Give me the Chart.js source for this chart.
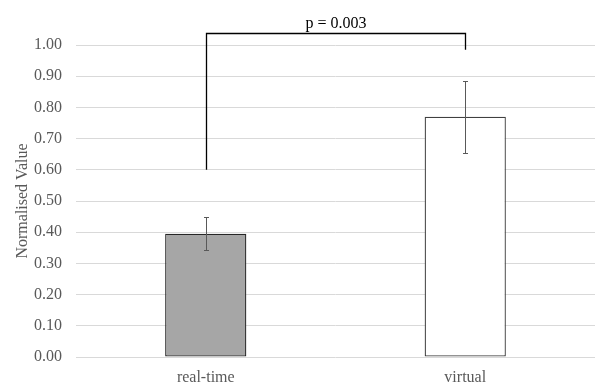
<!DOCTYPE html>
<html>
<head>
<meta charset="utf-8">
<script src="https://cdn.jsdelivr.net/npm/chart.js@4"></script>
<style>
  html, body { margin: 0; padding: 0; background: #ffffff; }
  #wrap { width: 595px; height: 383px; position: relative; }
</style>
</head>
<body>
<div id="wrap"><canvas id="barChart"></canvas></div>
<script>
const categories = ['real-time', 'virtual'];
const meanValues = [0.395, 0.770];
const errorValues = [0.053, 0.115];
const yTicks = [0, 0.1, 0.2, 0.3, 0.4, 0.5, 0.6, 0.7, 0.8, 0.9, 1.0];

// significance bracket: top level and where each leg ends
const pLabel = 'p = 0.003';
const bracketTop = 1.04;
const bracketLegEnds = [0.60, 0.985];

const serif = "'Liberation Serif', 'Times New Roman', serif";

const errorBars = {
    id: 'errorBars',
    afterDatasetsDraw(chart) {
        const ctx = chart.ctx;
        const x = chart.scales.x, y = chart.scales.y;
        ctx.save();
        ctx.strokeStyle = '#595959';
        ctx.lineWidth = 1;
        meanValues.forEach((m, i) => {
            const cx = Math.round(x.getPixelForValue(i)) + 0.5;
            const yHi = Math.round(y.getPixelForValue(m + errorValues[i])) + 0.5;
            const yLo = Math.round(y.getPixelForValue(m - errorValues[i])) + 0.5;
            ctx.beginPath();
            ctx.moveTo(cx, yHi); ctx.lineTo(cx, yLo);
            ctx.moveTo(cx - 2.5, yHi); ctx.lineTo(cx + 2.5, yHi);
            ctx.moveTo(cx - 2.5, yLo); ctx.lineTo(cx + 2.5, yLo);
            ctx.stroke();
        });
        ctx.restore();
    }
};

const sigBracket = {
    id: 'sigBracket',
    afterDraw(chart) {
        const ctx = chart.ctx;
        const x = chart.scales.x, y = chart.scales.y;
        const x0 = Math.round(x.getPixelForValue(0)) + 0.5;
        const x1 = Math.round(x.getPixelForValue(1)) + 0.5;
        const yt = Math.round(y.getPixelForValue(bracketTop)) + 0.5;
        ctx.save();
        ctx.strokeStyle = '#000000';
        ctx.lineWidth = 1.3;
        ctx.beginPath();
        ctx.moveTo(x0, y.getPixelForValue(bracketLegEnds[0]));
        ctx.lineTo(x0, yt);
        ctx.lineTo(x1, yt);
        ctx.lineTo(x1, y.getPixelForValue(bracketLegEnds[1]));
        ctx.stroke();
        ctx.fillStyle = '#000000';
        ctx.font = '16px ' + serif;
        ctx.textAlign = 'center';
        ctx.textBaseline = 'alphabetic';
        ctx.fillText(pLabel, (x0 + x1) / 2, yt - 6);
        ctx.restore();
    }
};

new Chart(document.getElementById('barChart'), {
    type: 'bar',
    data: {
        labels: categories,
        datasets: [{
            data: meanValues,
            backgroundColor: ['#a6a6a6', '#ffffff'],
            borderColor: ['#262626', '#404040'],
            borderWidth: 1.3,
            borderSkipped: false,
            categoryPercentage: 1,
            barPercentage: 0.313
        }]
    },
    options: {
        responsive: true,
        maintainAspectRatio: false,
        animation: false,
        layout: { padding: { top: 45, right: 0, left: 0, bottom: 0 } },
        plugins: {
            legend: { display: false },
            tooltip: { enabled: false }
        },
        scales: {
            x: {
                grid: { display: false, drawTicks: false },
                border: { display: false },
                ticks: {
                    color: '#595959',
                    font: { family: serif, size: 16 },
                    padding: 11
                },
                afterFit(scale) { scale.height = 26; }
            },
            y: {
                min: 0,
                max: 1.0,
                afterBuildTicks(scale) {
                    scale.ticks = yTicks.map(v => ({ value: v }));
                },
                grid: { color: '#d9d9d9', lineWidth: 1, drawTicks: false },
                border: { display: false },
                ticks: {
                    color: '#595959',
                    font: { family: serif, size: 16 },
                    padding: 14,
                    callback: v => Number(v).toFixed(2)
                },
                title: {
                    display: true,
                    text: 'Normalised Value',
                    color: '#595959',
                    font: { family: serif, size: 16 },
                    padding: { top: 13, bottom: 0 }
                },
                afterFit(scale) { scale.width = 76; }
            }
        }
    },
    plugins: [errorBars, sigBracket]
});
</script>
</body>
</html>
